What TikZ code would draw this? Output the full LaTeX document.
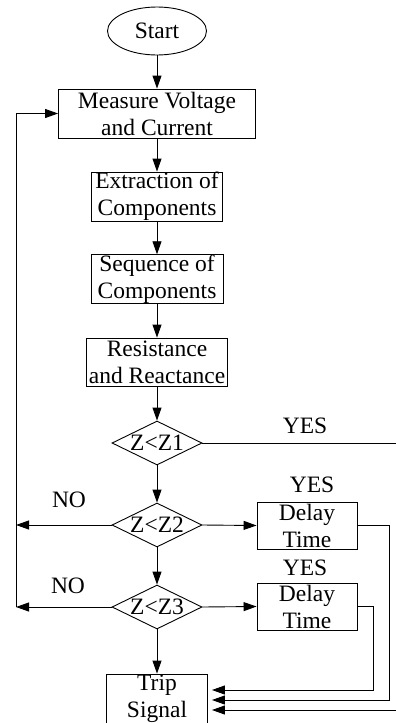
\documentclass[tikz,border=0pt]{standalone}
\usepackage{fontspec}
\setmainfont{Liberation Serif}
\usetikzlibrary{shapes.geometric,arrows.meta,positioning}

\begin{document}
\begin{tikzpicture}[x=1pt, y=-1pt, line width=0.9pt,
  font=\fontsize{23.5}{27}\selectfont,
  >={Triangle[length=13pt,width=9pt]},
  blk/.style={draw, rectangle, align=center, inner sep=0pt, minimum height=48pt},
  test/.style={draw, diamond, inner sep=0pt, minimum width=90pt, minimum height=44pt},
  lbl/.style={anchor=base, inner sep=0pt}]
  \useasboundingbox (0,0) rectangle (396,723);
  % main column
  \node[draw, ellipse, inner sep=0pt, minimum width=99pt, minimum height=48pt] (start) at (157,31) {Start};
  \node[blk, minimum width=197pt, minimum height=49pt] (meas) at (157,113.5) {Measure Voltage\\and Current};
  \node[blk, minimum width=131pt, minimum height=49pt] (extr) at (157,196.5) {Extraction of\\Components};
  \node[blk, minimum width=132pt] (seq) at (157,279) {Sequence of\\Components};
  \node[blk, minimum width=141pt] (res) at (157,362) {Resistance\\and Reactance};
  \node[test] (z1) at (157,443) {\makebox[0pt]{Z<Z1}};
  \node[test] (z2) at (157,525) {\makebox[0pt]{Z<Z2}};
  \node[test] (z3) at (157,607) {\makebox[0pt]{Z<Z3}};
  \node[blk, minimum width=101pt, minimum height=50pt] (trip) at (157,699) {Trip\\Signal};
  % delay boxes
  \node[blk, minimum width=100pt, minimum height=47pt] (dly1) at (307,525.5) {Delay\\Time};
  \node[blk, minimum width=100pt, minimum height=47pt] (dly2) at (307,606.5) {Delay\\Time};
  % labels
  \node[lbl] (yes1) at (305,433) {YES};
  \node[lbl] (yes2) at (312,492) {YES};
  \node[lbl] (yes3) at (305,575) {YES};
  \node[lbl] (no2lbl) at (69,507) {NO};
  \node[lbl] (no3lbl) at (68,593) {NO};
  % flow down the column
  \foreach \a/\b in {start/meas, meas/extr, extr/seq, seq/res, res/z1, z1/z2, z2/z3, z3/trip}
    \draw[->] (\a.south) -- (\b.north);
  % NO branches back to the top
  \coordinate (no2) at (16,525);
  \coordinate (no3) at (16,607);
  \draw[->] (z2.west) -- (no2);
  \draw[->] (z3.west) -- (no3);
  \draw[->] (no3) -- (no3 |- meas.west) -- (meas.west);
  % YES branches to the trip signal
  \coordinate (edge) at (396,443);
  \coordinate (r0) at (396,710);
  \coordinate (r1) at (389,700);
  \coordinate (r2) at (373,690);
  \draw (z1.east) -- (edge);
  \draw[->] (z2.east) -- (dly1.west);
  \draw[->] (z3.east) -- (dly2.west);
  \draw[->, shorten >=4pt] (dly1.east) -| (r1) -- (r1 -| trip.east);
  \draw[->, shorten >=4pt] (dly2.east) -| (r2) -- (r2 -| trip.east);
  \draw[->, shorten >=4pt] (r0) -- (r0 -| trip.east);
\end{tikzpicture}
\end{document}
